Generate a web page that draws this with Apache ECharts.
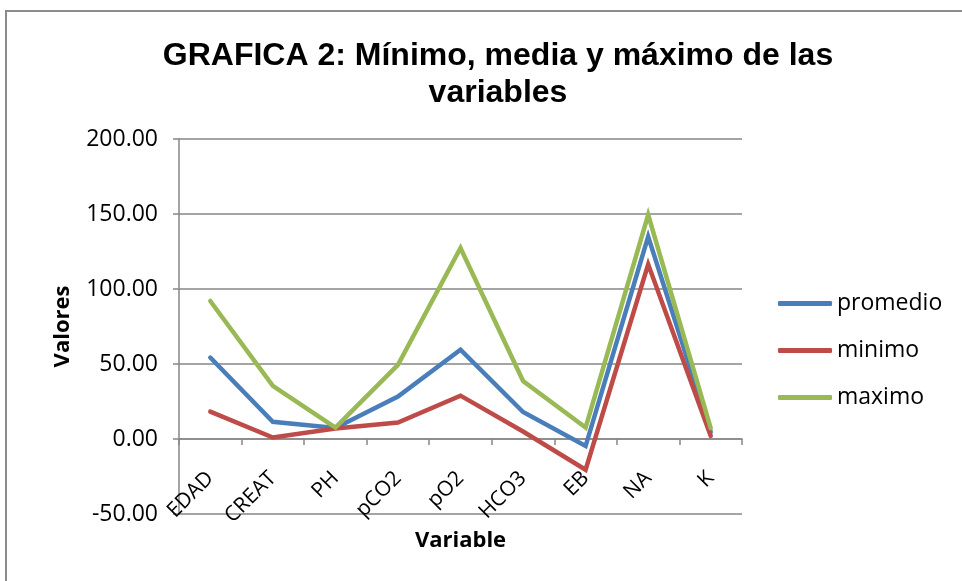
<!DOCTYPE html>
<html>
<head>
<meta charset="utf-8">
<script src="https://cdn.jsdelivr.net/npm/echarts@6/dist/echarts.min.js"></script>
<style>
  html, body { margin: 0; padding: 0; background: #fff; }
  #frame {
    position: absolute; left: 5px; top: 10px; width: 1000px; height: 700px;
    border: 2px solid #8c8c8c; box-sizing: border-box;
  }
  #chart { position: absolute; left: 0; top: 0; width: 962px; height: 581px; }
</style>
</head>
<body>
<div id="frame"></div>
<div id="chart"></div>
<script>
  const categories = ["EDAD", "CREAT", "PH", "pCO2", "pO2", "HCO3", "EB", "NA", "K"];
  const promedio = [54.3, 11.5, 7.4, 28.3, 59.5, 18.0, -4.7, 135.0, 4.5];
  const minimo = [18.2, 1.0, 7.0, 11.0, 28.9, 5.0, -20.5, 116.5, 2.0];
  const maximo = [92.0, 35.4, 7.6, 49.4, 127.3, 38.7, 7.6, 149.5, 7.2];
  const yTicks = [-50, 0, 50, 100, 150, 200];

  const colors = ["#4A7EBB", "#BE4B48", "#98B954"];
  const font = "'Open Sans', 'Noto Sans', sans-serif";
  const gray = "#868686";

  const myChart = echarts.init(document.getElementById("chart"));
  const mkSeries = (name, data) => ({
    name: name,
    type: "line",
    data: data,
    symbol: "none",
    xAxisIndex: 0,
    yAxisIndex: 0,
    lineStyle: { width: 4.5, cap: "round", join: "miter" },
  });

  // plot area: 179..742 x 139..514, value 0 sits at y = 439
  const option = {
    animation: false,
    color: colors,
    title: {
      text: "GRAFICA 2: Mínimo, media y máximo de las\nvariables",
      left: 493,
      top: 33,
      textAlign: "center",
      textStyle: {
        fontFamily: "'Liberation Sans', Arial, sans-serif",
        fontSize: 32,
        fontWeight: "bold",
        color: "#000",
        lineHeight: 37,
      },
    },
    legend: {
      orient: "vertical",
      left: 773,
      top: 287,
      itemWidth: 54,
      itemHeight: 5,
      itemGap: 24,
      icon: "roundRect",
      textStyle: { fontFamily: font, fontSize: 23, color: "#000" },
      data: ["promedio", "minimo", "maximo"],
    },
    grid: [
      { left: 179, top: 139, width: 563, height: 375, outerBoundsMode: "none" },
      // same width, ends at the zero line: carries the category labels
      { left: 179, top: 139, width: 563, height: 300, outerBoundsMode: "none" },
    ],
    xAxis: [
      {
        type: "category",
        gridIndex: 0,
        data: categories,
        boundaryGap: true,
        axisLine: { show: false },
        axisTick: { show: false },
        axisLabel: { show: false },
      },
      {
        type: "category",
        gridIndex: 1,
        data: categories,
        boundaryGap: true,
        name: "Variable",
        nameLocation: "middle",
        nameGap: 91,
        nameMoveOverlap: false,
        nameTextStyle: { fontFamily: font, fontSize: 22, fontWeight: "bold", color: "#000" },
        axisLine: { show: true, lineStyle: { color: gray, width: 1.5 } },
        axisTick: { show: true, length: 6, lineStyle: { color: gray, width: 1.5 } },
        axisLabel: {
          rotate: 45,
          margin: 36,
          interval: 0,
          fontFamily: font,
          fontSize: 21,
          color: "#000",
        },
      },
    ],
    yAxis: [
      {
        type: "value",
        gridIndex: 0,
        min: yTicks[0],
        max: yTicks[yTicks.length - 1],
        interval: 50,
        name: "Valores",
        nameLocation: "middle",
        nameGap: 105,
        nameTextStyle: { fontFamily: font, fontSize: 22, fontWeight: "bold", color: "#000" },
        axisLine: { show: true, lineStyle: { color: gray, width: 1.5 } },
        axisTick: { show: true, length: 6, lineStyle: { color: gray, width: 1.5 } },
        splitLine: { show: true, lineStyle: { color: gray, width: 1.5 } },
        axisLabel: {
          margin: 21,
          fontFamily: font,
          fontSize: 23,
          color: "#000",
          formatter: (v) => v.toFixed(2),
        },
      },
      { type: "value", gridIndex: 1, show: false, min: 0, max: 200 },
    ],
    series: [
      mkSeries("promedio", promedio),
      mkSeries("minimo", minimo),
      mkSeries("maximo", maximo),
    ],
  };

  myChart.setOption(option);
</script>
</body>
</html>
